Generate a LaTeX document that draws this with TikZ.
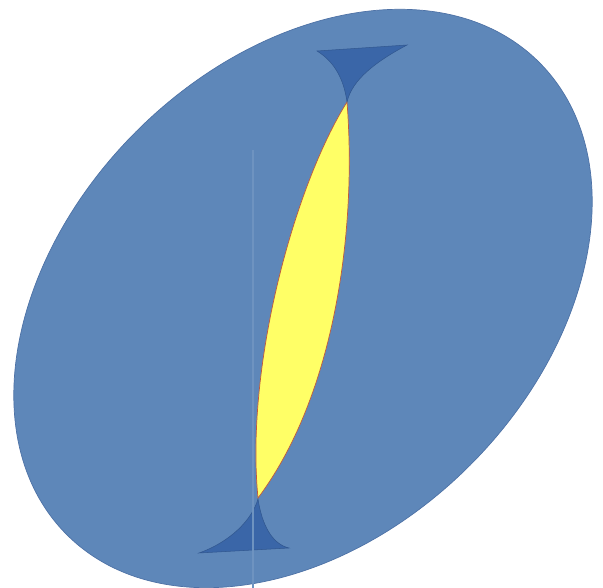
\documentclass[tikz,border=0pt]{standalone}
\usepackage{xcolor}
\usepackage{tikz}
\usetikzlibrary{calc}

\definecolor{nenxanh}{RGB}{94,135,185}
\definecolor{vienxanh}{RGB}{78,114,166}
\definecolor{xanhdam}{RGB}{58,102,168}
\definecolor{vangnhat}{RGB}{255,255,102}
\definecolor{viendo}{RGB}{192,90,60}

\begin{document}
\begin{tikzpicture}[x=0.02cm, y=-0.02cm]
    \useasboundingbox (0,0) rectangle (603,588);

    % Vẽ elip lớn
    \filldraw[fill=nenxanh, draw=vienxanh, line width=0.4pt,
        rotate around={45:(303,298.5)}]
        (303,298.5) ellipse [x radius=334, y radius=236];

    % Vẽ thấu kính vàng
    \filldraw[fill=vangnhat, draw=viendo, line width=0.4pt]
        (347,102) .. controls (295,185) and (245,365) .. (258,498)
        .. controls (335,395) and (357,230) .. (347,102) -- cycle;

    % Vẽ hai tam giác cong
    \filldraw[fill=xanhdam, draw=xanhdam!85!black, line width=0.3pt]
        (317,51) -- (407,45) .. controls (375,62) and (352,80) .. (347,102)
        .. controls (344,80) and (335,62) .. (317,51) -- cycle;
    \filldraw[fill=xanhdam, draw=xanhdam!85!black, line width=0.3pt]
        (258,499) .. controls (252,520) and (230,542) .. (199,553)
        -- (289,548) .. controls (272,544) and (262,525) .. (258,499) -- cycle;

    % Đường thẳng đứng mờ
    \draw[nenxanh!90!white, line width=1.5] (253,150) -- (253,588);
\end{tikzpicture}
\end{document}
